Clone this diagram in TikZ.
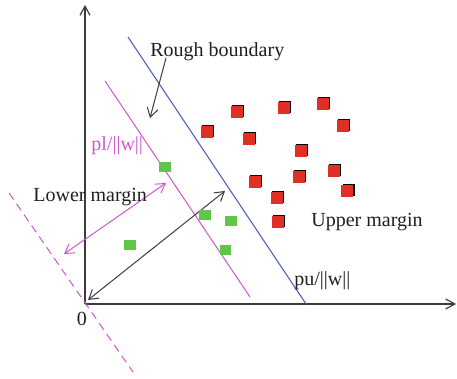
\documentclass[tikz,border=0pt]{standalone}
\usepackage{fontspec}
\setmainfont{Liberation Serif}
\usetikzlibrary{arrows.meta,shadows}
\definecolor{sqred}{RGB}{224,48,38}
\definecolor{sqgreen}{RGB}{96,198,74}
\definecolor{bndblue}{RGB}{72,90,190}
\definecolor{mag}{RGB}{204,88,204}
\definecolor{axisgray}{RGB}{60,60,60}
\begin{document}
\begin{tikzpicture}[x=0.5pt,y=-0.5pt,
  barbtip/.tip={Straight Barb[length=4.5pt,width=5.5pt]},
  axis/.style={draw=axisgray,line width=0.6pt,-{Straight Barb[length=4.5pt,width=5pt]}},
  lbl/.style={inner sep=0pt,anchor=base west,font=\fontsize{10pt}{12pt}\selectfont,text=black!88},
  redsq/.style={rectangle,inner sep=0pt,minimum size=6pt,fill=sqred,
     general shadow={fill=black,shadow xshift=0.6pt,shadow yshift=0.6pt}},
  greensq/.style={rectangle,inner sep=0pt,minimum width=5.8pt,minimum height=5.4pt,fill=sqgreen}]
\useasboundingbox (0,0) rectangle (457,379);
% axes
\coordinate (O) at (85,304);
\coordinate (ytop) at (85,5);
\coordinate (xend) at (456,304);
\draw[axis] (O) -- (ytop);
\draw[axis] (O) -- (xend);
% boundary lines
\coordinate (b1) at (128,37);
\coordinate (b2) at (306,304);
\draw[bndblue,line width=0.5pt] (b1) -- (b2);
\coordinate (m1) at (105,81);
\coordinate (m2) at (250,297);
\draw[mag,line width=0.5pt] (m1) -- (m2);
\coordinate (d1) at (9,193);
\coordinate (d2) at (133,372);
\draw[mag,line width=0.5pt,dash pattern=on 4pt off 2.6pt] (d1) -- (d2);
% double arrows
\coordinate (ka) at (88,300);
\coordinate (kb) at (225,191);
\draw[axisgray,line width=0.5pt,barbtip-barbtip] (ka) -- (kb);
\coordinate (ma) at (64,254);
\coordinate (mb) at (166,183);
\draw[mag,line width=0.5pt,barbtip-barbtip] (ma) -- (mb);
% rough boundary arrow
\coordinate (ra) at (166,58);
\coordinate (rb) at (150,118);
\draw[axisgray,line width=0.5pt,-barbtip] (ra) -- (rb);
% labels
\node[lbl] (trough) at (150,57) {Rough boundary};
\node[lbl,text=mag] (tpl) at (91,150.5) {pl/||w||};
\node[lbl] (tlow) at (33,201.5) {Lower margin};
\node[lbl] (tup) at (311,227) {Upper margin};
\node[lbl] (tpu) at (294,285.5) {pu/||w||};
\node[lbl] (tzero) at (76.5,325.5) {0};
% red squares
\foreach \p [count=\i] in {(207,132),(237,112),(249,139),(284,108),(323,104),(343,126),(301,151),(334,171),(255,182),(299,177),(347.5,191),(277,198),(278,222)}
  \node[redsq] (r\i) at \p {};
% green squares
\foreach \p [count=\i] in {(165,167),(205,215),(231,221),(130,245),(225.5,250)}
  \node[greensq] (g\i) at \p {};
\end{tikzpicture}
\end{document}
